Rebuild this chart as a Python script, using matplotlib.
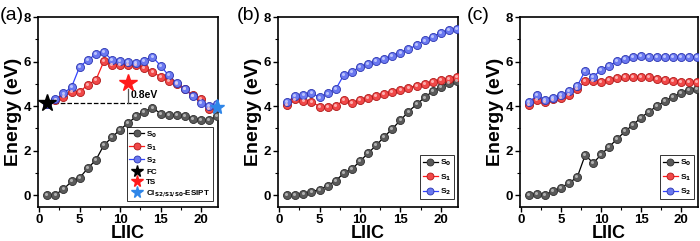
import numpy as np
import matplotlib
matplotlib.use('Agg')
import matplotlib.pyplot as plt
from matplotlib.lines import Line2D
from matplotlib.transforms import offset_copy

plt.rcParams['font.family'] = ['Liberation Sans', 'DejaVu Sans']
plt.rcParams['font.weight'] = 'bold'
plt.rcParams['mathtext.default'] = 'bf'

x = np.arange(1, 23)

# panel (a)
a_s0 = [0.0, 0.03, 0.27, 0.62, 0.78, 1.21, 1.58, 2.25, 2.6, 2.95, 3.24,
        3.55, 3.75, 3.93, 3.67, 3.6, 3.62, 3.58, 3.42, 3.36, 3.36, 3.56]
a_s1 = [4.1, 4.28, 4.42, 4.62, 4.64, 4.96, 5.17, 6.02, 5.86, 5.85, 5.85,
        5.85, 5.73, 5.52, 5.33, 5.14, 4.99, 4.79, 4.48, 4.31, 3.88, 3.95]
a_s2 = [4.1, 4.3, 4.57, 4.86, 5.77, 6.07, 6.33, 6.43, 6.07, 6.05, 5.97,
        5.92, 6.05, 6.22, 5.82, 5.38, 5.05, 4.76, 4.45, 4.15, 4.02, 4.1]
fc = (1, 4.12)
ts = (11, 5.02)
ci = (22, 3.95)

# panel (b)
b_s0 = [0.0, 0.03, 0.06, 0.16, 0.25, 0.43, 0.65, 0.99, 1.18, 1.52, 1.89,
        2.24, 2.62, 2.99, 3.36, 3.76, 4.08, 4.39, 4.67, 4.86, 5.05, 5.14]
b_s1 = [4.05, 4.3, 4.23, 4.2, 3.98, 3.98, 4.0, 4.27, 4.15, 4.26, 4.37,
        4.45, 4.55, 4.64, 4.74, 4.83, 4.92, 5.01, 5.1, 5.17, 5.24, 5.33]
b_s2 = [4.2, 4.45, 4.49, 4.6, 4.39, 4.57, 4.76, 5.4, 5.55, 5.76, 5.89,
        6.01, 6.11, 6.26, 6.41, 6.55, 6.75, 6.95, 7.12, 7.29, 7.41, 7.47]

# panel (c)
c_s0 = [0.0, 0.07, 0.03, 0.18, 0.34, 0.56, 0.81, 1.81, 1.44, 1.83, 2.18,
        2.53, 2.87, 3.17, 3.49, 3.76, 4.01, 4.24, 4.42, 4.6, 4.74, 4.79]
c_s1 = [4.05, 4.27, 4.17, 4.3, 4.37, 4.52, 4.76, 5.13, 5.13, 5.08, 5.18,
        5.26, 5.3, 5.33, 5.33, 5.29, 5.23, 5.18, 5.14, 5.1, 5.07, 5.08]
c_s2 = [4.2, 4.49, 4.27, 4.37, 4.49, 4.67, 4.9, 5.6, 5.33, 5.63, 5.82,
        6.01, 6.14, 6.23, 6.26, 6.23, 6.21, 6.19, 6.19, 6.19, 6.21, 6.23]

series_style = [
    ('S$_0$', 'black', '#5a5a5a', '#2e2e2e', '#c8c8c8'),
    ('S$_1$', '#ff1a1a', '#f04848', '#b01818', '#ffc8c8'),
    ('S$_2$', '#3344ff', '#6a78f0', '#2a34b0', '#d0d6ff'),
]


def balls(ax, fig, xs, ys, line, face, edge, light):
    ax.plot(xs, ys, '-', color=line, lw=0.9, zorder=2)
    ax.plot(xs, ys, 'o', ms=5.8, mfc=face, mec=edge, mew=0.6, zorder=3)
    tr = offset_copy(ax.transData, fig=fig, x=-0.6, y=0.7, units='points')
    ax.plot(xs, ys, 'o', ms=2.2, mfc=light, mec='none', alpha=0.8,
            transform=tr, zorder=4)


def style_axes(ax):
    ax.set_xlim(-0.15, 22.1)
    ax.set_ylim(-0.53, 8)
    ax.set_xticks([0, 5, 10, 15, 20])
    ax.set_yticks([0, 2, 4, 6, 8])
    ax.set_xticks(np.arange(2.5, 22, 5), minor=True)
    ax.set_yticks([1, 3, 5, 7], minor=True)
    ax.tick_params(which='major', direction='out', length=3.5, width=1,
                   labelsize=9.5, pad=1.5)
    ax.tick_params(which='minor', direction='out', length=2, width=0.8)
    for sp in ax.spines.values():
        sp.set_linewidth(1.2)
    ax.set_xlabel('LIIC', fontsize=13, fontweight='bold', labelpad=-1)
    ax.set_ylabel('Energy (eV)', fontsize=14, fontweight='bold', labelpad=1)


fig = plt.figure(figsize=(7, 2.41), dpi=100)
axa = fig.add_axes([0.0543, 0.141, 0.257, 0.788])
axb = fig.add_axes([0.397, 0.141, 0.257, 0.788])
axc = fig.add_axes([0.743, 0.141, 0.254, 0.788])

panels = [(axa, (a_s0, a_s1, a_s2)),
          (axb, (b_s0, b_s1, b_s2)),
          (axc, (c_s0, c_s1, c_s2))]

for ax, data in panels:
    for ys, (lab, line, face, edge, light) in zip(data, series_style):
        balls(ax, fig, x, ys, line, face, edge, light)
    style_axes(ax)

for tag, px in (('(a)', 0), ('(b)', 237), ('(c)', 467)):
    fig.text(px / 700, 1 - 15 / 241, tag, fontsize=14, fontweight='normal',
             ha='left', va='center')

# extras in (a)
axa.plot([fc[0], 12.6], [fc[1], fc[1]], '--', color='black', lw=0.9, zorder=1)
axa.plot([ts[0], ts[0]], [fc[1], ts[1] - 0.25], '-', color='#555555', lw=0.9)
axa.text(ts[0] + 0.35, 4.5, '0.8eV', fontsize=7.5, fontweight='bold',
         va='center', ha='left')
axa.plot(*fc, marker='*', ms=13, color='black', mec='black', zorder=5,
         clip_on=False)
axa.plot(*ts, marker='*', ms=13, color='#ff1a1a', mec='#ff1a1a', zorder=5)
axa.plot(*ci, marker='*', ms=11, color='#2f86e8', mec='#2f86e8', zorder=5,
         clip_on=False)


def legend_handles():
    hs = []
    for lab, line, face, edge, light in series_style:
        hs.append(Line2D([], [], color=line, lw=0.9, marker='o', ms=5.0,
                         mfc=face, mec=edge, mew=0.6, label=lab))
    return hs


hs = legend_handles()
hs += [Line2D([], [], ls='none', marker='*', ms=8.5, color='black', label='FC'),
       Line2D([], [], ls='none', marker='*', ms=8.5, color='#ff1a1a', label='TS'),
       Line2D([], [], ls='none', marker='*', ms=8.5, color='#2f86e8',
              label='CI$_{S2/S1/S0}$-ESIPT')]
leg = axa.legend(handles=hs, loc='lower right', fontsize=5.8,
                 bbox_to_anchor=(0.97, 0.03), frameon=True, fancybox=False,
                 edgecolor='black', handlelength=1.8, handletextpad=0.3,
                 labelspacing=0.3, borderpad=0.3, borderaxespad=0)
leg.get_frame().set_linewidth(0.7)

for ax in (axb, axc):
    lg = ax.legend(handles=legend_handles(), loc='lower right', fontsize=6,
                   bbox_to_anchor=(0.98, 0.04), frameon=True, fancybox=False,
                   edgecolor='black', handlelength=1.8, handletextpad=0.3,
                   labelspacing=0.45, borderpad=0.3, borderaxespad=0)
    lg.get_frame().set_linewidth(0.7)

fig.savefig('out.png', dpi=100)
